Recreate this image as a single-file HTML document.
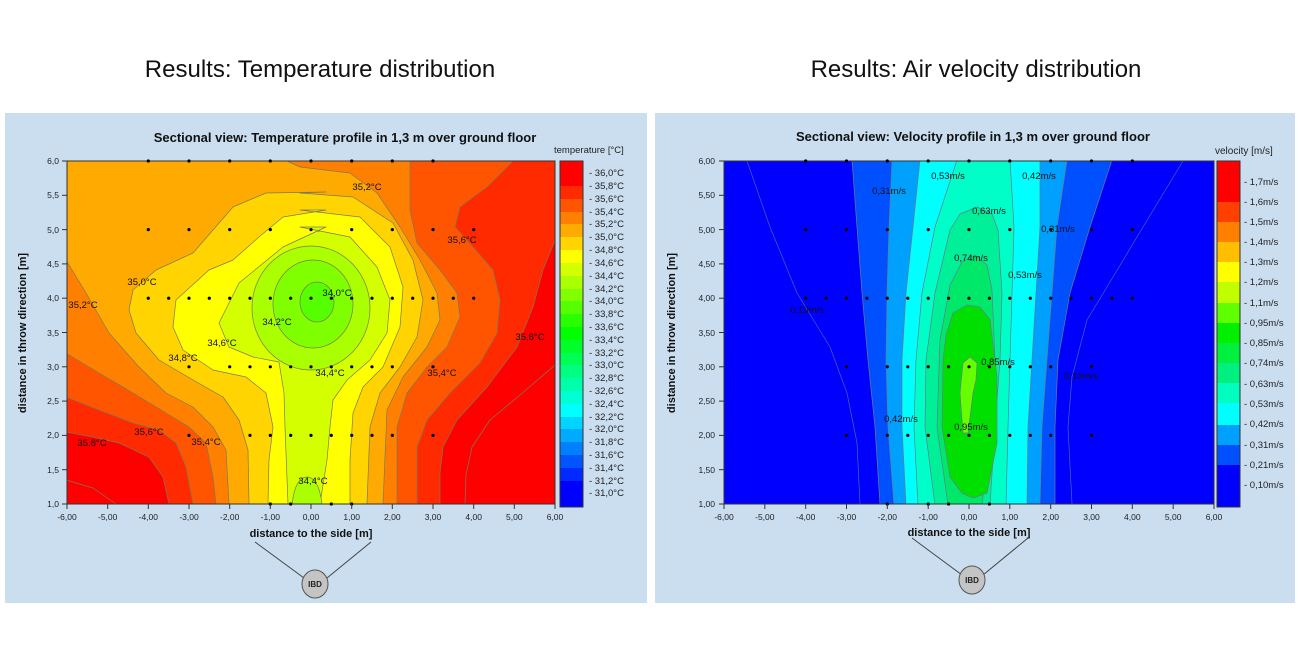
<!DOCTYPE html>
<html><head><meta charset="utf-8"><style>
html,body{margin:0;padding:0;background:#fff;}
svg{display:block;font-family:"Liberation Sans",Arial,sans-serif;}
</style></head><body>
<svg width="1300" height="668" viewBox="0 0 1300 668" xmlns="http://www.w3.org/2000/svg">
<defs>
<clipPath id="cl"><rect x="67" y="161" width="488" height="343"/></clipPath>
<clipPath id="cr"><rect x="724" y="161" width="490" height="343"/></clipPath>
</defs>
<rect width="1300" height="668" fill="#fff"/>
<text x="320" y="77" font-size="24" text-anchor="middle" fill="#111">Results: Temperature distribution</text>
<text x="976" y="77" font-size="24" text-anchor="middle" fill="#111">Results: Air velocity distribution</text>
<rect x="5" y="113" width="642" height="490" fill="#cadef0"/>
<rect x="655" y="113" width="640" height="490" fill="#cadef0"/>
<text x="345" y="142" font-size="13" font-weight="bold" text-anchor="middle" fill="#111">Sectional view: Temperature profile in 1,3 m over ground floor</text>
<text x="973" y="141" font-size="13" font-weight="bold" text-anchor="middle" fill="#111">Sectional view: Velocity profile in 1,3 m over ground floor</text>

<!-- LEFT temperature -->
<g clip-path="url(#cl)" stroke="#7a7a5a" stroke-width="0.7" stroke-linejoin="round">
<rect x="67" y="161" width="488" height="343" fill="#ff0000" stroke="none"/>
<polygon fill="#ff2a00" points="67,161 555,161 555,240 543,270 533,307 517,347 487,387 457,420 443,447 440,473 440,504 169,504 163,477 149,457 119,443 93,437 66,432"/>
<polygon fill="#ff5500" points="67,161 513,161 487,187 460,207 455,227 473,247 493,270 500,300 497,333 480,363 450,393 427,420 417,447 417,504 193,504 186,467 176,443 159,430 133,423 99,410 66,397"/>
<polygon fill="#ff8000" points="67,161 410,161 410,210 417,243 440,270 457,293 460,317 447,347 427,367 407,393 397,427 397,504 216,504 213,477 206,443 189,427 166,413 133,393 99,373 66,353"/>
<polygon fill="#ffaa00" points="67,161 287,161 300,167 350,173 377,193 400,227 420,260 437,293 440,320 427,347 403,377 387,410 383,504 229,504 226,450 213,427 193,407 166,393 139,367 109,333 86,293 66,260"/>
<polygon fill="#ffd400" points="326,192 266,193 233,207 213,230 193,253 156,270 133,290 129,310 136,333 159,360 193,380 223,397 239,420 248,450 249,504 367,504 370,427 380,393 400,367 417,337 423,300 413,260 393,223 353,197 300,193"/>
<polygon fill="#ffff00" points="326,210 283,217 259,237 233,260 209,270 176,300 173,327 183,350 213,370 246,377 266,393 273,427 269,460 268,504 350,504 350,460 353,413 363,387 383,367 400,327 403,287 390,247 360,217 300,210"/>
<polygon fill="#d4ff00" points="326,227 283,247 239,283 219,323 229,347 253,357 279,362 284,393 285,427 288,504 320,504 327,460 330,427 333,400 347,380 370,360 387,333 390,300 377,267 350,237 300,227"/>
<ellipse cx="311" cy="308" rx="59" ry="62" fill="#aaff00"/>
<path d="M292,505 C294,485 300,477 307,477 C314,477 320,485 322,505 Z" fill="#aaff00"/>
<ellipse cx="313" cy="304" rx="40" ry="44" fill="#80ff00"/>
<ellipse cx="317" cy="302" rx="17" ry="20" fill="#55ff00"/>
<polyline fill="none" points="66,480 93,488 116,504"/>
<polyline fill="none" points="555,365 520,395 490,420 472,447 466,475 465,504"/>
</g>
<rect x="67" y="161" width="488" height="343" fill="none" stroke="#333" stroke-width="1"/>
<g fill="#000">
<circle cx="148.3" cy="161" r="1.6"/><circle cx="189" cy="161" r="1.6"/><circle cx="229.7" cy="161" r="1.6"/><circle cx="270.3" cy="161" r="1.6"/><circle cx="311" cy="161" r="1.6"/><circle cx="351.7" cy="161" r="1.6"/><circle cx="392.3" cy="161" r="1.6"/><circle cx="433" cy="161" r="1.6"/>
<circle cx="148.3" cy="229.6" r="1.6"/><circle cx="189" cy="229.6" r="1.6"/><circle cx="229.7" cy="229.6" r="1.6"/><circle cx="270.3" cy="229.6" r="1.6"/><circle cx="311" cy="229.6" r="1.6"/><circle cx="351.7" cy="229.6" r="1.6"/><circle cx="392.3" cy="229.6" r="1.6"/><circle cx="433" cy="229.6" r="1.6"/><circle cx="473.7" cy="229.6" r="1.6"/>
<circle cx="148.3" cy="298.2" r="1.6"/><circle cx="168.7" cy="298.2" r="1.6"/><circle cx="189" cy="298.2" r="1.6"/><circle cx="209.3" cy="298.2" r="1.6"/><circle cx="229.7" cy="298.2" r="1.6"/><circle cx="250" cy="298.2" r="1.6"/><circle cx="270.3" cy="298.2" r="1.6"/><circle cx="290.7" cy="298.2" r="1.6"/><circle cx="311" cy="298.2" r="1.6"/><circle cx="331.3" cy="298.2" r="1.6"/><circle cx="351.7" cy="298.2" r="1.6"/><circle cx="372" cy="298.2" r="1.6"/><circle cx="392.3" cy="298.2" r="1.6"/><circle cx="412.7" cy="298.2" r="1.6"/><circle cx="433" cy="298.2" r="1.6"/><circle cx="453.3" cy="298.2" r="1.6"/><circle cx="473.7" cy="298.2" r="1.6"/>
<circle cx="189" cy="366.8" r="1.6"/><circle cx="229.7" cy="366.8" r="1.6"/><circle cx="250" cy="366.8" r="1.6"/><circle cx="270.3" cy="366.8" r="1.6"/><circle cx="290.7" cy="366.8" r="1.6"/><circle cx="311" cy="366.8" r="1.6"/><circle cx="331.3" cy="366.8" r="1.6"/><circle cx="351.7" cy="366.8" r="1.6"/><circle cx="372" cy="366.8" r="1.6"/><circle cx="392.3" cy="366.8" r="1.6"/><circle cx="433" cy="366.8" r="1.6"/>
<circle cx="189" cy="435.4" r="1.6"/><circle cx="250" cy="435.4" r="1.6"/><circle cx="270.3" cy="435.4" r="1.6"/><circle cx="290.7" cy="435.4" r="1.6"/><circle cx="311" cy="435.4" r="1.6"/><circle cx="331.3" cy="435.4" r="1.6"/><circle cx="351.7" cy="435.4" r="1.6"/><circle cx="372" cy="435.4" r="1.6"/><circle cx="392.3" cy="435.4" r="1.6"/><circle cx="433" cy="435.4" r="1.6"/>
<circle cx="270.3" cy="504" r="1.6"/><circle cx="290.7" cy="504" r="1.6"/><circle cx="331.3" cy="504" r="1.6"/><circle cx="351.7" cy="504" r="1.6"/>
</g>
<g font-size="9.5" fill="#111" text-anchor="middle">
<text x="367" y="190">35,2°C</text><text x="462" y="243">35,6°C</text><text x="142" y="285">35,0°C</text>
<text x="337" y="296">34,0°C</text><text x="83" y="308">35,2°C</text><text x="277" y="325">34,2°C</text>
<text x="530" y="340">35,8°C</text><text x="222" y="346">34,6°C</text><text x="183" y="361">34,8°C</text>
<text x="330" y="376">34,4°C</text><text x="442" y="376">35,4°C</text><text x="149" y="435">35,6°C</text>
<text x="92" y="446">35,8°C</text><text x="206" y="445">35,4°C</text><text x="313" y="484">34,4°C</text>
</g>
<g stroke="#333" stroke-width="1">
<line x1="62" y1="161" x2="67" y2="161"/><line x1="62" y1="195.3" x2="67" y2="195.3"/><line x1="62" y1="229.6" x2="67" y2="229.6"/><line x1="62" y1="263.9" x2="67" y2="263.9"/><line x1="62" y1="298.2" x2="67" y2="298.2"/><line x1="62" y1="332.5" x2="67" y2="332.5"/><line x1="62" y1="366.8" x2="67" y2="366.8"/><line x1="62" y1="401.1" x2="67" y2="401.1"/><line x1="62" y1="435.4" x2="67" y2="435.4"/><line x1="62" y1="469.7" x2="67" y2="469.7"/><line x1="62" y1="504" x2="67" y2="504"/>
<line x1="67" y1="504" x2="67" y2="509"/><line x1="107.7" y1="504" x2="107.7" y2="509"/><line x1="148.3" y1="504" x2="148.3" y2="509"/><line x1="189" y1="504" x2="189" y2="509"/><line x1="229.7" y1="504" x2="229.7" y2="509"/><line x1="270.3" y1="504" x2="270.3" y2="509"/><line x1="311" y1="504" x2="311" y2="509"/><line x1="351.7" y1="504" x2="351.7" y2="509"/><line x1="392.3" y1="504" x2="392.3" y2="509"/><line x1="433" y1="504" x2="433" y2="509"/><line x1="473.7" y1="504" x2="473.7" y2="509"/><line x1="514.3" y1="504" x2="514.3" y2="509"/><line x1="555" y1="504" x2="555" y2="509"/>
</g>
<g font-size="8.5" fill="#222" text-anchor="end">
<text x="59" y="164">6,0</text><text x="59" y="198">5,5</text><text x="59" y="233">5,0</text><text x="59" y="267">4,5</text><text x="59" y="301">4,0</text><text x="59" y="336">3,5</text><text x="59" y="370">3,0</text><text x="59" y="404">2,5</text><text x="59" y="438">2,0</text><text x="59" y="473">1,5</text><text x="59" y="507">1,0</text>
</g>
<g font-size="8.5" fill="#222" text-anchor="middle">
<text x="67" y="520">-6,00</text><text x="107.7" y="520">-5,00</text><text x="148.3" y="520">-4,00</text><text x="189" y="520">-3,00</text><text x="229.7" y="520">-2,00</text><text x="270.3" y="520">-1,00</text><text x="311" y="520">0,00</text><text x="351.7" y="520">1,00</text><text x="392.3" y="520">2,00</text><text x="433" y="520">3,00</text><text x="473.7" y="520">4,00</text><text x="514.3" y="520">5,00</text><text x="555" y="520">6,00</text>
</g>
<text x="311" y="537" font-size="11" font-weight="bold" text-anchor="middle" fill="#111">distance to the side [m]</text>
<text transform="translate(26,333) rotate(-90)" font-size="11" font-weight="bold" text-anchor="middle" fill="#111">distance in throw direction [m]</text>
<text x="554" y="153" font-size="9.5" fill="#222">temperature [°C]</text>
<g>
<rect x="560" y="161" width="23" height="26" fill="#ff0000"/>
<rect x="560" y="186" width="23" height="14" fill="#ff2a00"/>
<rect x="560" y="199" width="23" height="14" fill="#ff5500"/>
<rect x="560" y="212" width="23" height="13" fill="#ff8000"/>
<rect x="560" y="224" width="23" height="14" fill="#ffaa00"/>
<rect x="560" y="237" width="23" height="14" fill="#ffd400"/>
<rect x="560" y="250" width="23" height="14" fill="#ffff00"/>
<rect x="560" y="263" width="23" height="14" fill="#d4ff00"/>
<rect x="560" y="276" width="23" height="14" fill="#aaff00"/>
<rect x="560" y="289" width="23" height="13" fill="#80ff00"/>
<rect x="560" y="301" width="23" height="14" fill="#55ff00"/>
<rect x="560" y="314" width="23" height="14" fill="#2aff00"/>
<rect x="560" y="327" width="23" height="14" fill="#00ff00"/>
<rect x="560" y="340" width="23" height="14" fill="#00ff2a"/>
<rect x="560" y="353" width="23" height="13" fill="#00ff55"/>
<rect x="560" y="365" width="23" height="14" fill="#00ff80"/>
<rect x="560" y="378" width="23" height="14" fill="#00ffaa"/>
<rect x="560" y="391" width="23" height="14" fill="#00ffd4"/>
<rect x="560" y="404" width="23" height="14" fill="#00ffff"/>
<rect x="560" y="417" width="23" height="13" fill="#00d4ff"/>
<rect x="560" y="429" width="23" height="14" fill="#00aaff"/>
<rect x="560" y="442" width="23" height="14" fill="#0080ff"/>
<rect x="560" y="455" width="23" height="14" fill="#0055ff"/>
<rect x="560" y="468" width="23" height="14" fill="#002aff"/>
<rect x="560" y="481" width="23" height="26" fill="#0000ff"/>
<rect x="560" y="161" width="23" height="346" fill="none" stroke="#333"/>
</g>
<g font-size="9.5" fill="#222">
<text x="589" y="176">- 36,0°C</text><text x="589" y="189">- 35,8°C</text><text x="589" y="202">- 35,6°C</text><text x="589" y="215">- 35,4°C</text><text x="589" y="227">- 35,2°C</text><text x="589" y="240">- 35,0°C</text><text x="589" y="253">- 34,8°C</text><text x="589" y="266">- 34,6°C</text><text x="589" y="279">- 34,4°C</text><text x="589" y="292">- 34,2°C</text><text x="589" y="304">- 34,0°C</text><text x="589" y="317">- 33,8°C</text><text x="589" y="330">- 33,6°C</text><text x="589" y="343">- 33,4°C</text><text x="589" y="356">- 33,2°C</text><text x="589" y="368">- 33,0°C</text><text x="589" y="381">- 32,8°C</text><text x="589" y="394">- 32,6°C</text><text x="589" y="407">- 32,4°C</text><text x="589" y="420">- 32,2°C</text><text x="589" y="432">- 32,0°C</text><text x="589" y="445">- 31,8°C</text><text x="589" y="458">- 31,6°C</text><text x="589" y="471">- 31,4°C</text><text x="589" y="484">- 31,2°C</text><text x="589" y="496">- 31,0°C</text>
</g>
<g stroke="#444" stroke-width="1"><line x1="255" y1="542" x2="304" y2="578"/><line x1="371" y1="542" x2="327" y2="578"/></g>
<ellipse cx="315" cy="584" rx="13" ry="14" fill="#c4c4c4" stroke="#555"/>
<text x="315" y="587" font-size="8" font-weight="bold" text-anchor="middle" fill="#222">IBD</text>

<!-- RIGHT velocity -->
<g clip-path="url(#cr)" stroke="#6a7a8a" stroke-width="0.7" stroke-linejoin="round">
<rect x="724" y="161" width="490" height="343" fill="#0000ff" stroke="none"/>
<polygon fill="#0050ff" points="852,160 857,227 862,293 868,360 875,427 880,505 1055,505 1055,427 1058,360 1070,293 1090,227 1112,160"/>
<polygon fill="#00a0ff" points="892,160 889,227 887,293 886,360 888,427 894,505 1040,505 1042,427 1047,360 1052,293 1057,227 1067,160"/>
<polygon fill="#00ffff" points="920,160 913,227 906,293 902,360 902,427 906,505 1027,505 1028,427 1032,360 1036,293 1040,227 1040,160"/>
<polygon fill="#00ffc8" points="957,160 935,227 922,293 916,360 914,427 918,505 1006,505 1008,427 1010,360 1012,293 1014,227 1010,160"/>
<polygon fill="#00f09a" points="977,207 960,214 950,230 935,293 926,360 925,427 935,505 990,505 995,427 1000,360 1002,293 998,230 992,214"/>
<polygon fill="#00e86a" points="975,255 962,262 950,285 940,340 937,427 948,505 982,505 992,427 995,360 992,290 987,265"/>
<polygon fill="#00e000" points="967,305 953,313 946,335 943,360 942,427 950,477 962,493 973,498 987,493 997,443 997,377 990,320 980,307"/>
<polygon fill="#66ff00" points="970,357 977,363 976,380 973,393 968,433 963,433 960,393 963,363"/>
<polyline fill="none" stroke="#5060b0" points="747,161 770,227 797,293 830,347 847,393 857,443 860,504"/>
<polyline fill="none" stroke="#5060b0" points="1183,161 1143,227 1107,287 1087,320 1072,377 1068,427 1072,504"/>
</g>
<rect x="724" y="161" width="490" height="343" fill="none" stroke="#333" stroke-width="1"/>
<g fill="#000">
<circle cx="805.7" cy="161" r="1.6"/><circle cx="846.5" cy="161" r="1.6"/><circle cx="887.3" cy="161" r="1.6"/><circle cx="928.2" cy="161" r="1.6"/><circle cx="969" cy="161" r="1.6"/><circle cx="1009.8" cy="161" r="1.6"/><circle cx="1050.7" cy="161" r="1.6"/><circle cx="1091.5" cy="161" r="1.6"/><circle cx="1132.3" cy="161" r="1.6"/>
<circle cx="805.7" cy="229.6" r="1.6"/><circle cx="846.5" cy="229.6" r="1.6"/><circle cx="887.3" cy="229.6" r="1.6"/><circle cx="928.2" cy="229.6" r="1.6"/><circle cx="969" cy="229.6" r="1.6"/><circle cx="1009.8" cy="229.6" r="1.6"/><circle cx="1050.7" cy="229.6" r="1.6"/><circle cx="1091.5" cy="229.6" r="1.6"/><circle cx="1132.3" cy="229.6" r="1.6"/>
<circle cx="805.7" cy="298.2" r="1.6"/><circle cx="826.1" cy="298.2" r="1.6"/><circle cx="846.5" cy="298.2" r="1.6"/><circle cx="866.9" cy="298.2" r="1.6"/><circle cx="887.3" cy="298.2" r="1.6"/><circle cx="907.8" cy="298.2" r="1.6"/><circle cx="928.2" cy="298.2" r="1.6"/><circle cx="948.6" cy="298.2" r="1.6"/><circle cx="969" cy="298.2" r="1.6"/><circle cx="989.4" cy="298.2" r="1.6"/><circle cx="1009.8" cy="298.2" r="1.6"/><circle cx="1030.3" cy="298.2" r="1.6"/><circle cx="1050.7" cy="298.2" r="1.6"/><circle cx="1071.1" cy="298.2" r="1.6"/><circle cx="1091.5" cy="298.2" r="1.6"/><circle cx="1111.9" cy="298.2" r="1.6"/><circle cx="1132.3" cy="298.2" r="1.6"/>
<circle cx="846.5" cy="366.8" r="1.6"/><circle cx="887.3" cy="366.8" r="1.6"/><circle cx="907.8" cy="366.8" r="1.6"/><circle cx="928.2" cy="366.8" r="1.6"/><circle cx="948.6" cy="366.8" r="1.6"/><circle cx="969" cy="366.8" r="1.6"/><circle cx="989.4" cy="366.8" r="1.6"/><circle cx="1009.8" cy="366.8" r="1.6"/><circle cx="1030.3" cy="366.8" r="1.6"/><circle cx="1050.7" cy="366.8" r="1.6"/><circle cx="1091.5" cy="366.8" r="1.6"/>
<circle cx="846.5" cy="435.4" r="1.6"/><circle cx="887.3" cy="435.4" r="1.6"/><circle cx="907.8" cy="435.4" r="1.6"/><circle cx="928.2" cy="435.4" r="1.6"/><circle cx="948.6" cy="435.4" r="1.6"/><circle cx="969" cy="435.4" r="1.6"/><circle cx="989.4" cy="435.4" r="1.6"/><circle cx="1009.8" cy="435.4" r="1.6"/><circle cx="1030.3" cy="435.4" r="1.6"/><circle cx="1050.7" cy="435.4" r="1.6"/><circle cx="1091.5" cy="435.4" r="1.6"/>
<circle cx="887.3" cy="504" r="1.6"/><circle cx="928.2" cy="504" r="1.6"/><circle cx="948.6" cy="504" r="1.6"/><circle cx="989.4" cy="504" r="1.6"/>
</g>
<g font-size="9.5" fill="#111" text-anchor="middle">
<text x="948" y="179">0,53m/s</text><text x="1039" y="179">0,42m/s</text><text x="889" y="194">0,31m/s</text>
<text x="989" y="214">0,63m/s</text><text x="1058" y="232">0,31m/s</text><text x="971" y="261">0,74m/s</text>
<text x="1025" y="278">0,53m/s</text><text x="807" y="313">0,10m/s</text><text x="998" y="365">0,85m/s</text>
<text x="1081" y="379">0,10m/s</text><text x="901" y="422">0,42m/s</text><text x="971" y="430">0,95m/s</text>
</g>
<g stroke="#333" stroke-width="1">
<line x1="719" y1="161" x2="724" y2="161"/><line x1="719" y1="195.3" x2="724" y2="195.3"/><line x1="719" y1="229.6" x2="724" y2="229.6"/><line x1="719" y1="263.9" x2="724" y2="263.9"/><line x1="719" y1="298.2" x2="724" y2="298.2"/><line x1="719" y1="332.5" x2="724" y2="332.5"/><line x1="719" y1="366.8" x2="724" y2="366.8"/><line x1="719" y1="401.1" x2="724" y2="401.1"/><line x1="719" y1="435.4" x2="724" y2="435.4"/><line x1="719" y1="469.7" x2="724" y2="469.7"/><line x1="719" y1="504" x2="724" y2="504"/>
<line x1="724" y1="504" x2="724" y2="509"/><line x1="764.8" y1="504" x2="764.8" y2="509"/><line x1="805.7" y1="504" x2="805.7" y2="509"/><line x1="846.5" y1="504" x2="846.5" y2="509"/><line x1="887.3" y1="504" x2="887.3" y2="509"/><line x1="928.2" y1="504" x2="928.2" y2="509"/><line x1="969" y1="504" x2="969" y2="509"/><line x1="1009.8" y1="504" x2="1009.8" y2="509"/><line x1="1050.7" y1="504" x2="1050.7" y2="509"/><line x1="1091.5" y1="504" x2="1091.5" y2="509"/><line x1="1132.3" y1="504" x2="1132.3" y2="509"/><line x1="1173.2" y1="504" x2="1173.2" y2="509"/><line x1="1214" y1="504" x2="1214" y2="509"/>
</g>
<g font-size="8.5" fill="#222" text-anchor="end">
<text x="715" y="164">6,00</text><text x="715" y="198">5,50</text><text x="715" y="233">5,00</text><text x="715" y="267">4,50</text><text x="715" y="301">4,00</text><text x="715" y="336">3,50</text><text x="715" y="370">3,00</text><text x="715" y="404">2,50</text><text x="715" y="438">2,00</text><text x="715" y="473">1,50</text><text x="715" y="507">1,00</text>
</g>
<g font-size="8.5" fill="#222" text-anchor="middle">
<text x="724" y="520">-6,00</text><text x="764.8" y="520">-5,00</text><text x="805.7" y="520">-4,00</text><text x="846.5" y="520">-3,00</text><text x="887.3" y="520">-2,00</text><text x="928.2" y="520">-1,00</text><text x="969" y="520">0,00</text><text x="1009.8" y="520">1,00</text><text x="1050.7" y="520">2,00</text><text x="1091.5" y="520">3,00</text><text x="1132.3" y="520">4,00</text><text x="1173.2" y="520">5,00</text><text x="1214" y="520">6,00</text>
</g>
<text x="969" y="536" font-size="11" font-weight="bold" text-anchor="middle" fill="#111">distance to the side [m]</text>
<text transform="translate(675,333) rotate(-90)" font-size="11" font-weight="bold" text-anchor="middle" fill="#111">distance in throw direction [m]</text>
<text x="1215" y="154" font-size="10" fill="#222">velocity [m/s]</text>
<g>
<rect x="1217" y="161" width="23" height="41" fill="#ff0000"/>
<rect x="1217" y="202" width="23" height="20" fill="#ff4000"/>
<rect x="1217" y="222" width="23" height="20" fill="#ff8000"/>
<rect x="1217" y="242" width="23" height="20" fill="#ffbf00"/>
<rect x="1217" y="262" width="23" height="20" fill="#ffff00"/>
<rect x="1217" y="282" width="23" height="21" fill="#bfff00"/>
<rect x="1217" y="303" width="23" height="20" fill="#60ff00"/>
<rect x="1217" y="323" width="23" height="20" fill="#00f000"/>
<rect x="1217" y="343" width="23" height="20" fill="#00f040"/>
<rect x="1217" y="363" width="23" height="20" fill="#00f080"/>
<rect x="1217" y="383" width="23" height="20" fill="#00ffbf"/>
<rect x="1217" y="403" width="23" height="22" fill="#00ffff"/>
<rect x="1217" y="425" width="23" height="20" fill="#00a0ff"/>
<rect x="1217" y="445" width="23" height="20" fill="#0050ff"/>
<rect x="1217" y="465" width="23" height="42" fill="#0000ff"/>
<rect x="1217" y="161" width="23" height="346" fill="none" stroke="#333"/>
</g>
<g font-size="9.5" fill="#222">
<text x="1244" y="185">- 1,7m/s</text><text x="1244" y="205">- 1,6m/s</text><text x="1244" y="225">- 1,5m/s</text><text x="1244" y="245">- 1,4m/s</text><text x="1244" y="265">- 1,3m/s</text><text x="1244" y="285">- 1,2m/s</text><text x="1244" y="306">- 1,1m/s</text><text x="1244" y="326">- 0,95m/s</text><text x="1244" y="346">- 0,85m/s</text><text x="1244" y="366">- 0,74m/s</text><text x="1244" y="387">- 0,63m/s</text><text x="1244" y="407">- 0,53m/s</text><text x="1244" y="427">- 0,42m/s</text><text x="1244" y="448">- 0,31m/s</text><text x="1244" y="468">- 0,21m/s</text><text x="1244" y="488">- 0,10m/s</text>
</g>
<g stroke="#444" stroke-width="1"><line x1="912" y1="538" x2="962" y2="575"/><line x1="1028" y1="538" x2="983" y2="575"/></g>
<ellipse cx="972" cy="580" rx="13" ry="14" fill="#c4c4c4" stroke="#555"/>
<text x="972" y="583" font-size="8" font-weight="bold" text-anchor="middle" fill="#222">IBD</text>
</svg>
</body></html>
